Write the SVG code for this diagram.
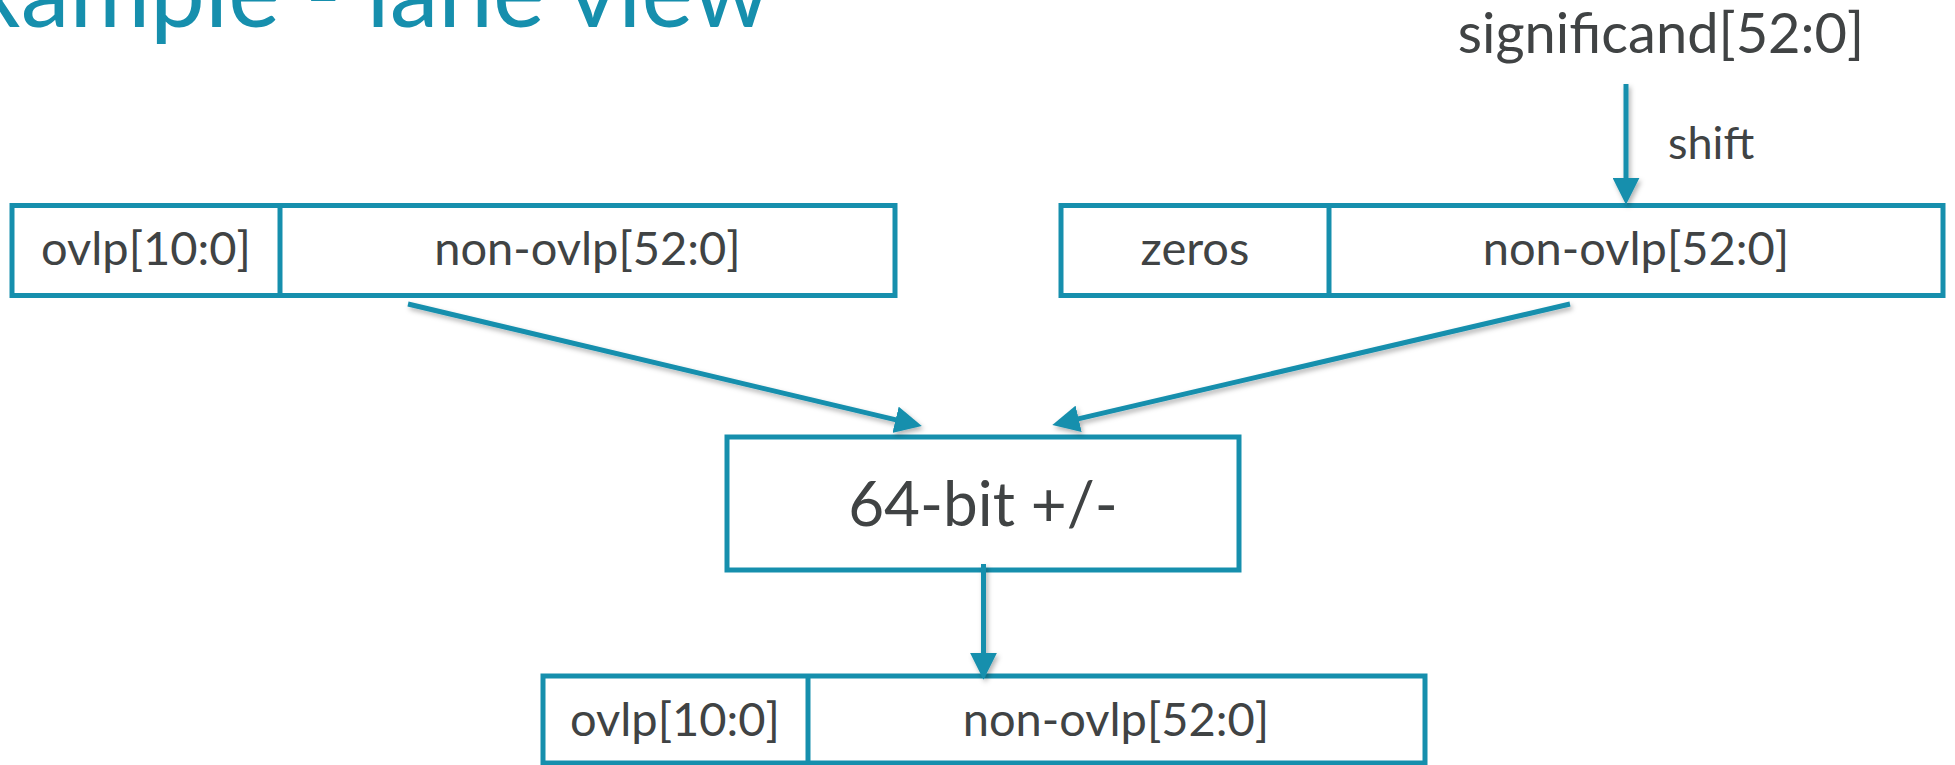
<svg xmlns="http://www.w3.org/2000/svg" width="1955" height="765" viewBox="0 0 1955 765">
  <defs>
    <style>
      .box { fill: #ffffff; stroke: #168FAD; stroke-width: 5; }
      .div { stroke: #168FAD; stroke-width: 5; }
      .lbl { font-family: Lato, "Open Sans", sans-serif; fill: #404344; text-anchor: middle; }
      .cell { font-size: 47px; }
      .wire { stroke: #168FAD; stroke-width: 5; fill: none; marker-end: url(#head); }
      .title { font-family: Lato, "Open Sans", sans-serif; font-size: 98px; fill: #168FAD; }
    </style>
    <marker id="head" viewBox="0 0 10 10" refX="1" refY="5" markerWidth="5.4" markerHeight="5.4" orient="auto" markerUnits="strokeWidth">
      <path d="M0,0 L10,5 L0,10 z" fill="#168FAD"/>
    </marker>
    <filter id="shadow" x="-10%" y="-10%" width="120%" height="130%">
      <feDropShadow dx="2" dy="3" stdDeviation="2.5" flood-color="#000000" flood-opacity="0.3"/>
    </filter>
  </defs>

  <rect width="1955" height="765" fill="#ffffff"/>

  <!-- slide heading, clipped by the top/left edges -->
  <text class="title" x="-28" y="27">xample - lane view</text>

  <!-- input significand label -->
  <g id="significand">
    <text class="lbl" x="1661" y="53" font-size="56">significand[52:0]</text>
  </g>
  <g id="shift-label">
    <text class="lbl" x="1668" y="159" font-size="45" style="text-anchor:start">shift</text>
  </g>

  <!-- operand A -->
  <g id="operand-a">
    <rect class="box" x="12" y="205.5" width="883" height="90"/>
    <line class="div" x1="280" y1="205.5" x2="280" y2="295.5"/>
    <text class="lbl cell" x="146" y="265">ovlp[10:0]</text>
    <text class="lbl cell" x="587.5" y="265">non-ovlp[52:0]</text>
  </g>

  <!-- operand B (shifted significand) -->
  <g id="operand-b">
    <rect class="box" x="1061" y="205.5" width="882" height="90"/>
    <line class="div" x1="1329" y1="205.5" x2="1329" y2="295.5"/>
    <text class="lbl cell" x="1195" y="265">zeros</text>
    <text class="lbl cell" x="1636" y="265">non-ovlp[52:0]</text>
  </g>

  <!-- adder -->
  <g id="adder">
    <rect class="box" x="727" y="437" width="512" height="133"/>
    <text class="lbl" x="983" y="526" font-size="62">64-bit +/-</text>
  </g>

  <!-- result -->
  <g id="result">
    <rect class="box" x="543" y="676" width="882" height="87"/>
    <line class="div" x1="808" y1="676" x2="808" y2="763"/>
    <text class="lbl cell" x="675" y="736">ovlp[10:0]</text>
    <text class="lbl cell" x="1116" y="736">non-ovlp[52:0]</text>
  </g>

  <!-- connectors -->
  <g id="connectors" filter="url(#shadow)">
    <line class="wire" x1="1626" y1="84" x2="1626" y2="180.5"/>
    <line class="wire" x1="408" y1="304" x2="898.2" y2="420.4"/>
    <line class="wire" x1="1570" y1="304" x2="1076" y2="419.4"/>
    <line class="wire" x1="983.5" y1="564" x2="983.5" y2="655.5"/>
  </g>
</svg>
